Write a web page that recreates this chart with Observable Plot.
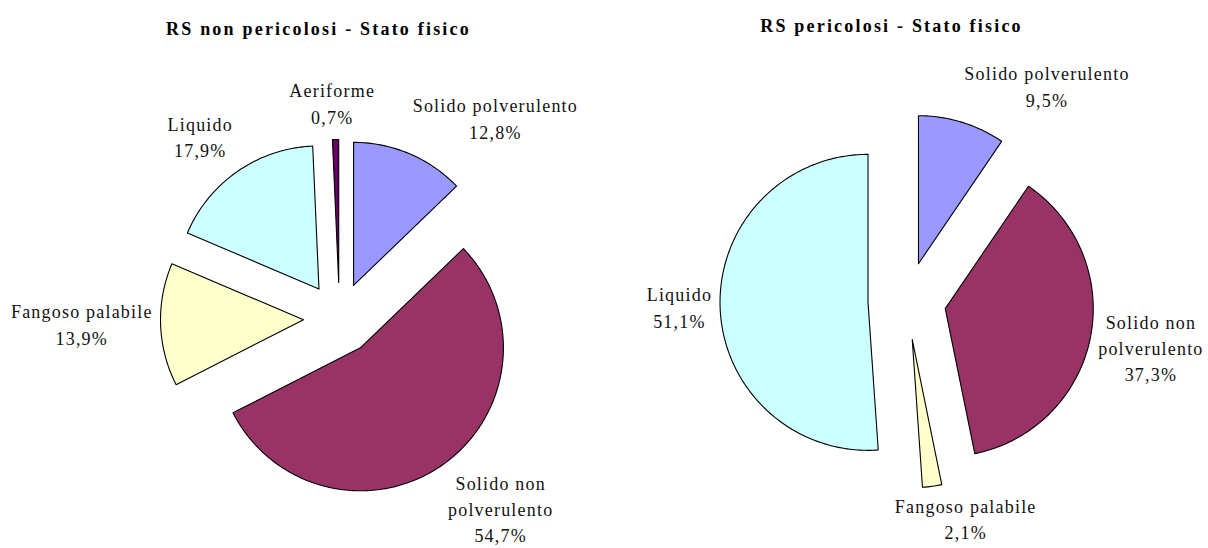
<!DOCTYPE html>
<html>
<head>
<meta charset="utf-8">
<script src="https://cdn.jsdelivr.net/npm/d3@7"></script>
<script src="https://cdn.jsdelivr.net/npm/@observablehq/plot@0.6"></script>
<style>
  html, body { margin: 0; padding: 0; background: #ffffff; }
  #chart svg { display: block; }
  #chart svg text { font-family: "Liberation Serif", "Times New Roman", "DejaVu Serif", serif !important; letter-spacing: 1.2px; }
  #chart svg g[font-weight="bold"] text { letter-spacing: 2.2px; }
</style>
</head>
<body>
<div id="chart"></div>
<script>
// ---- data ----
const categories = ["Solido polverulento", "Solido non polverulento", "Fangoso palabile", "Liquido", "Aeriforme"];
const categoryLabels = ["Solido polverulento", "Solido non\npolverulento", "Fangoso palabile", "Liquido", "Aeriforme"];
const categoryColors = ["#9999ff", "#993366", "#ffffcc", "#ccffff", "#660066"];

const nonPericolosiCategories = ["Solido polverulento", "Solido non polverulento", "Fangoso palabile", "Liquido", "Aeriforme"];
const nonPericolosiValues = [12.8, 54.7, 13.9, 17.9, 0.7];

const pericolosiCategories = ["Solido polverulento", "Solido non polverulento", "Fangoso palabile", "Liquido"];
const pericolosiValues = [9.5, 37.3, 2.1, 51.1];

const titles = ["RS non pericolosi - Stato fisico", "RS pericolosi - Stato fisico"];

// ---- layout ----
const W = 1208, H = 548;
const FONT = "Liberation Serif";
const LABEL_SIZE = 18, LABEL_SPACING = 1.2, LINE_H = 1.47;
const layouts = [
  {cx: 339, cy: 318, r: 143, explode: 36, titleX: 318, titleY: 29},
  {cx: 906.5, cy: 300.5, r: 148, explode: 39, titleX: 891, titleY: 26}
];

const canvas = document.createElement("canvas");
const ctx = canvas.getContext("2d");
function textWidth(s, size, weight, spacing) {
  ctx.font = `${weight} ${size}px "${FONT}", serif`;
  return ctx.measureText(s).width + spacing * s.length;
}
const fmt = v => v.toFixed(1).replace(".", ",") + "%";
const clamp = v => Math.max(-1, Math.min(1, v));

const polyPts = [];
const labelPts = [];
function buildPie(cats, vals, L, key) {
  const arcs = d3.pie().sort(null).value(d => d.v).startAngle(0).endAngle(2 * Math.PI)(
    cats.map((c, i) => ({c, v: vals[i]}))
  );
  for (const a of arcs) {
    const mid = (a.startAngle + a.endAngle) / 2;
    const sx = Math.sin(mid), sy = -Math.cos(mid);
    const ox = L.cx + L.explode * sx, oy = L.cy + L.explode * sy;
    const id = key + "|" + a.data.c;
    polyPts.push({id, cat: a.data.c, x: ox, y: oy});
    const n = Math.max(2, Math.ceil((a.endAngle - a.startAngle) / (Math.PI / 180)));
    for (let j = 0; j <= n; j++) {
      const t = a.startAngle + (a.endAngle - a.startAngle) * j / n;
      polyPts.push({id, cat: a.data.c, x: ox + L.r * Math.sin(t), y: oy - L.r * Math.cos(t)});
    }
    // label placed outside the slice
    const name = categoryLabels[categories.indexOf(a.data.c)];
    const text = name + "\n" + fmt(a.data.v);
    const lines = text.split("\n");
    const w = d3.max(lines, s => textWidth(s, LABEL_SIZE, "normal", LABEL_SPACING));
    const h = lines.length * LABEL_SIZE * LINE_H;
    const R = L.r + L.explode + 8;
    const px = L.cx + R * sx, py = L.cy + R * sy;
    labelPts.push({
      x: px + (w / 2) * clamp(3.4 * sx),
      y: py + (h / 2) * clamp(1.3 * sy) - 3,
      text
    });
  }
}
buildPie(nonPericolosiCategories, nonPericolosiValues, layouts[0], "np");
buildPie(pericolosiCategories, pericolosiValues, layouts[1], "p");

const titleData = titles.map((t, i) => ({text: t, x: layouts[i].titleX, y: layouts[i].titleY}));

const chart = Plot.plot({
  width: W,
  height: H,
  margin: 0,
  x: {domain: [0, W], range: [0, W], axis: null},
  y: {domain: [0, H], range: [0, H], axis: null},
  color: {domain: categories, range: categoryColors},
  style: {background: "#ffffff", color: "black", fontFamily: "'Liberation Serif', serif"},
  marks: [
    Plot.line(polyPts, {
      x: "x", y: "y", z: "id", fill: "cat",
      stroke: "#000000", strokeWidth: 1.1, curve: "linear-closed"
    }),
    Plot.text(labelPts, {
      x: "x", y: "y", text: "text",
      fontSize: LABEL_SIZE, fontFamily: FONT, lineHeight: LINE_H,
      textAnchor: "middle", lineAnchor: "middle", fill: "#111111"
    }),
    Plot.text(titleData, {
      x: "x", y: "y", text: "text",
      fontSize: 18, fontFamily: FONT, fontWeight: "bold",
      textAnchor: "middle", lineAnchor: "middle", fill: "#000000"
    })
  ]
});
document.getElementById("chart").appendChild(chart);
</script>
</body>
</html>
